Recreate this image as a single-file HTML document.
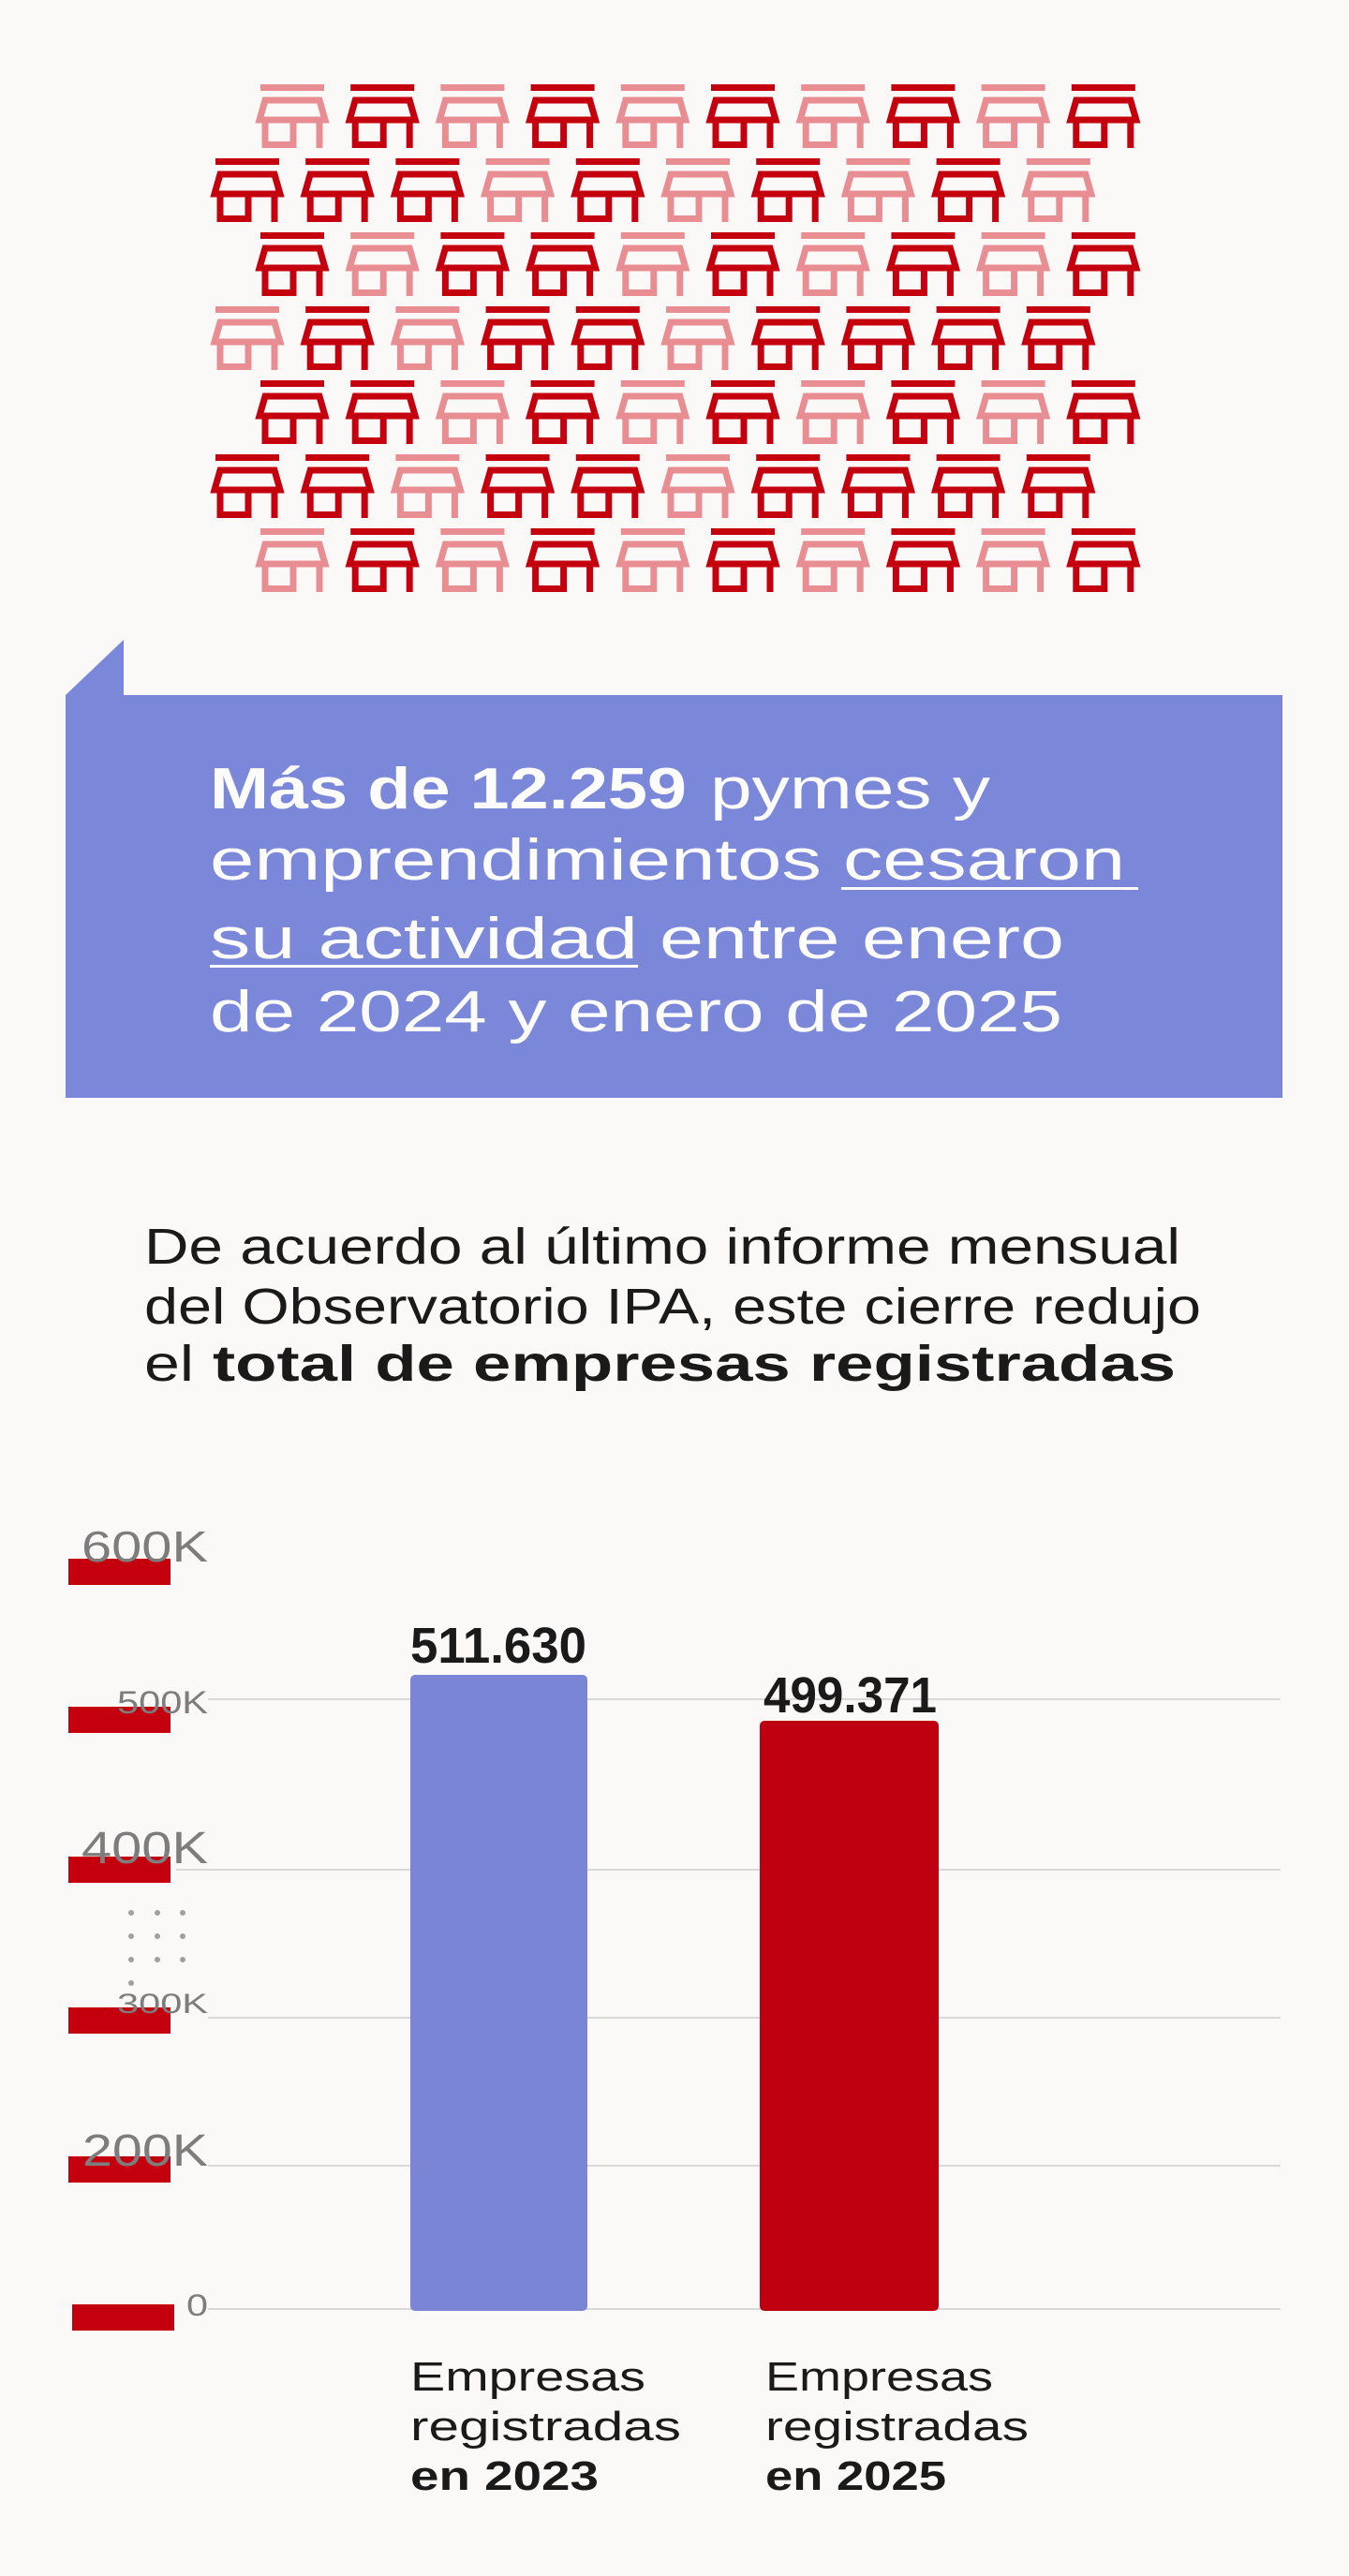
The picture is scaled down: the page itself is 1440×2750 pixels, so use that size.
<!DOCTYPE html>
<html><head><meta charset="utf-8"><style>
html,body{margin:0;padding:0;background:#faf9f8;}
svg{display:block;}
text{font-family:"Liberation Sans",sans-serif;}
</style></head><body>
<svg width="1440" height="2750" viewBox="0 0 1440 2750" xmlns="http://www.w3.org/2000/svg">
<rect width="1440" height="2750" fill="#faf9f8"/>
<defs>
<g id="shop" fill="none" stroke-width="7">
<rect x="4" y="0" width="68" height="7" stroke="none" fill="currentColor"/>
<polygon points="9,17 67,17 73,38 3,38" stroke="currentColor"/>
<line x1="9" y1="38" x2="9" y2="68" stroke="currentColor"/>
<line x1="67" y1="38" x2="67" y2="68" stroke="currentColor"/>
<line x1="39" y1="38" x2="39" y2="68" stroke="currentColor"/>
<line x1="6" y1="64.5" x2="42" y2="64.5" stroke="currentColor"/>
</g>
</defs>
<g id="grid"></g>
<script>
(function(){
var pats=["0101010101","1110101010","1011010101","0101101111","1101010101","1101101111","0101010101"];
var g=document.getElementById('grid');var ns="http://www.w3.org/2000/svg";
for(var r=0;r<7;r++){var x0=(r%2==0)?274:226;var y=90+r*79;
for(var c=0;c<10;c++){var u=document.createElementNS(ns,'use');
u.setAttribute('href','#shop');u.setAttribute('x',x0+c*96.2);u.setAttribute('y',y);
u.setAttribute('color',pats[r][c]=='1'?'#c4000f':'#e88e93');g.appendChild(u);}}
})();
</script>

<!-- blue box -->
<polygon points="70,742 132,683 132,742" fill="#7b87d9"/>
<rect x="70" y="742" width="1299" height="430" fill="#7b87d9"/>
<g fill="#fcfcfc" font-size="62">
<text x="224" y="863" font-weight="bold" textLength="509" lengthAdjust="spacingAndGlyphs">Más de 12.259</text>
<text x="758" y="863" textLength="299" lengthAdjust="spacingAndGlyphs">pymes y</text>
<text x="224" y="939" textLength="653" lengthAdjust="spacingAndGlyphs">emprendimientos</text>
<text x="900" y="939" textLength="301" lengthAdjust="spacingAndGlyphs">cesaron</text>
<text x="224" y="1023" textLength="457" lengthAdjust="spacingAndGlyphs">su actividad</text>
<text x="704" y="1023" textLength="432" lengthAdjust="spacingAndGlyphs">entre enero</text>
<text x="224" y="1101" textLength="910" lengthAdjust="spacingAndGlyphs">de 2024 y enero de 2025</text>
</g>
<rect x="898" y="947" width="317" height="3" fill="#fcfcfc"/>
<rect x="224" y="1030" width="457" height="3" fill="#fcfcfc"/>

<!-- paragraph -->
<g fill="#1a1a1a" font-size="54">
<text x="154" y="1349" textLength="1106" lengthAdjust="spacingAndGlyphs">De acuerdo al último informe mensual</text>
<text x="154" y="1413" textLength="1128" lengthAdjust="spacingAndGlyphs">del Observatorio IPA, este cierre redujo</text>
<text x="154" y="1474" textLength="53" lengthAdjust="spacingAndGlyphs">el</text>
<text x="227" y="1474" font-weight="bold" textLength="1028" lengthAdjust="spacingAndGlyphs">total de empresas registradas</text>
</g>

<!-- gridlines -->
<g stroke="#d9d9d9" stroke-width="2">
<line x1="222" y1="1814" x2="1367" y2="1814"/>
<line x1="188" y1="1996" x2="1367" y2="1996"/>
<line x1="222" y1="2154" x2="1367" y2="2154"/>
<line x1="222" y1="2312" x2="1367" y2="2312"/>
<line x1="222" y1="2465" x2="1367" y2="2465"/>
</g>
<!-- red ticks -->
<g fill="#c4000f">
<rect x="73" y="1664" width="109" height="28"/>
<rect x="73" y="1822" width="109" height="28"/>
<rect x="73" y="1982" width="109" height="28"/>
<rect x="73" y="2143" width="109" height="28"/>
<rect x="73" y="2302" width="109" height="28"/>
<rect x="77" y="2460" width="109" height="28"/>
</g>
<g fill="#7d7d7d">
<text x="87" y="1667" font-size="46" textLength="135" lengthAdjust="spacingAndGlyphs">600K</text>
<text x="125" y="1829" font-size="34" textLength="97" lengthAdjust="spacingAndGlyphs">500K</text>
<text x="87" y="1989" font-size="48" textLength="135" lengthAdjust="spacingAndGlyphs">400K</text>
<text x="125" y="2149" font-size="30" textLength="97" lengthAdjust="spacingAndGlyphs">300K</text>
<text x="88" y="2312" font-size="48" textLength="134" lengthAdjust="spacingAndGlyphs">200K</text>
<text x="199" y="2472" font-size="32" textLength="23" lengthAdjust="spacingAndGlyphs">0</text>
</g>
<g fill="#a0a0a0">
<circle cx="140" cy="2042" r="3"/><circle cx="168" cy="2042" r="3"/><circle cx="195" cy="2042" r="3"/>
<circle cx="140" cy="2067" r="3"/><circle cx="168" cy="2067" r="3"/><circle cx="195" cy="2067" r="3"/>
<circle cx="140" cy="2092" r="3"/><circle cx="168" cy="2092" r="3"/><circle cx="195" cy="2092" r="3"/>
<circle cx="140" cy="2117" r="3"/>
</g>

<!-- bars -->
<rect x="438" y="1788" width="189" height="679" rx="5" fill="#7b85d6"/>
<rect x="811" y="1837" width="191" height="630" rx="5" fill="#be0010"/>
<g fill="#1a1a1a" font-weight="bold" font-size="54">
<text x="438" y="1775" textLength="188" lengthAdjust="spacingAndGlyphs">511.630</text>
<text x="815" y="1828" textLength="185" lengthAdjust="spacingAndGlyphs">499.371</text>
</g>
<g fill="#1a1a1a" font-size="44">
<text x="438" y="2552" textLength="251" lengthAdjust="spacingAndGlyphs">Empresas</text>
<text x="438" y="2605" textLength="289" lengthAdjust="spacingAndGlyphs">registradas</text>
<text x="438" y="2658" font-weight="bold" textLength="201" lengthAdjust="spacingAndGlyphs">en 2023</text>
<text x="817" y="2552" textLength="243" lengthAdjust="spacingAndGlyphs">Empresas</text>
<text x="817" y="2605" textLength="281" lengthAdjust="spacingAndGlyphs">registradas</text>
<text x="817" y="2658" font-weight="bold" textLength="193" lengthAdjust="spacingAndGlyphs">en 2025</text>
</g>
</svg>
</body></html>
